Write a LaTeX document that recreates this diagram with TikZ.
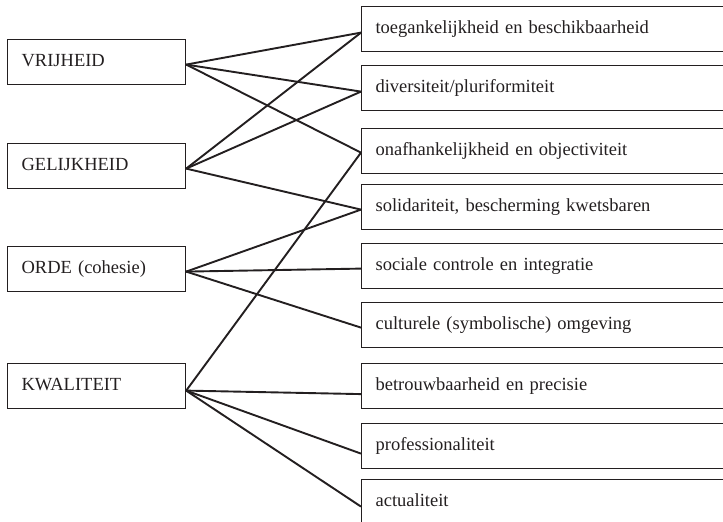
\documentclass[tikz,border=0pt]{standalone}
\usepackage{fontspec}
\setmainfont{Liberation Serif}
\usetikzlibrary{calc}
\definecolor{ink}{HTML}{231F20}
\begin{document}
\begin{tikzpicture}[x=1pt,y=-1pt,
  box/.style={draw=ink, line width=1.2pt, anchor=north west, minimum height=45pt,
    inner xsep=14pt, inner ysep=0pt, text height=8pt, text depth=0pt, align=left,
    font=\fontsize{18.5}{20}\selectfont, text=ink},
  lbox/.style={box, text width=150pt},
  rbox/.style={box, text width=352pt},
  link/.style={draw=ink, line width=1.9pt}]
\useasboundingbox (0,0) rectangle (723,522);
\clip (0,0) rectangle (723,522);
% left boxes
\node[lbox] (vri) at (7,39)  {VRIJHEID};
\node[lbox] (gel) at (7,143) {GELIJKHEID};
\node[lbox] (ord) at (7,246) {ORDE (cohesie)};
\node[lbox] (kwa) at (7,363) {KWALITEIT};
% right boxes
\node[rbox] (r1) at (361,6)   {toegankelijkheid en beschikbaarheid};
\node[rbox] (r2) at (361,65)  {diversiteit/pluriformiteit};
\node[rbox] (r3) at (361,128) {onafhankelijkheid en objectiviteit};
\node[rbox] (r4) at (361,184) {solidariteit, bescherming kwetsbaren};
\node[rbox] (r5) at (361,243) {sociale controle en integratie};
\node[rbox] (r6) at (361,302) {culturele (symbolische) omgeving};
\node[rbox] (r7) at (361,363) {betrouwbaarheid en precisie};
\node[rbox] (r8) at (361,423) {professionaliteit};
\node[rbox] (r9) at (361,479) {actualiteit};
% connectors
\coordinate (vo) at ($(vri.east)+(0,2.5)$);
\coordinate (go) at ($(gel.east)+(0,2.5)$);
\coordinate (oo) at ($(ord.east)+(0,2.5)$);
\coordinate (ko) at ($(kwa.east)+(0,4.5)$);
\draw[link] (vo) -- ($(r1.west)+(0,3.5)$);
\draw[link] (vo) -- ($(r2.west)+(0,3.5)$);
\draw[link] (vo) -- ($(r3.west)+(0,1.5)$);
\draw[link] (go) -- ($(r1.west)+(0,3.5)$);
\draw[link] (go) -- ($(r2.west)+(0,3.5)$);
\draw[link] (go) -- ($(r4.west)+(0,2.5)$);
\draw[link] (oo) -- ($(r4.west)+(0,2.5)$);
\draw[link] (oo) -- ($(r5.west)+(0,2.5)$);
\draw[link] (oo) -- ($(r6.west)+(0,2.5)$);
\draw[link] (ko) -- ($(r3.west)+(0,1.5)$);
\draw[link] (ko) -- ($(r7.west)+(0,8)$);
\draw[link] (ko) -- ($(r8.west)+(0,7.5)$);
\draw[link] (ko) -- ($(r9.west)+(0,4.5)$);
\end{tikzpicture}
\end{document}
